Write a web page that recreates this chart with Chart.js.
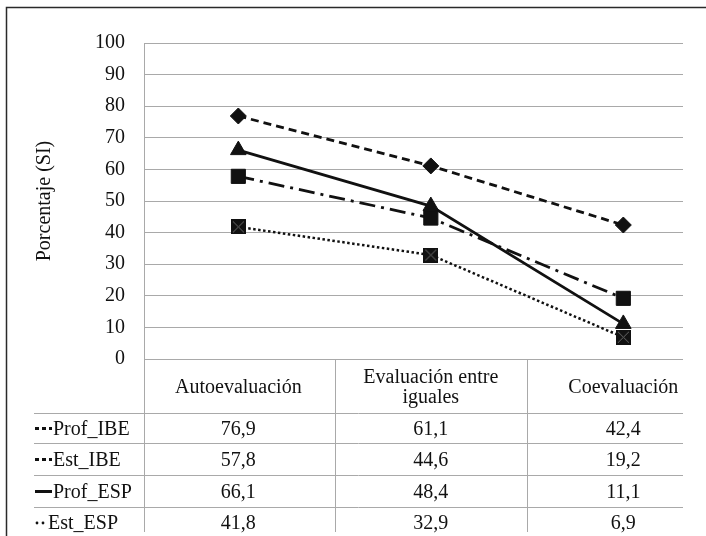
<!DOCTYPE html>
<html>
<head>
<meta charset="utf-8">
<script src="https://cdn.jsdelivr.net/npm/chart.js@4.4.1/dist/chart.umd.min.js"></script>
<style>
  html, body { margin: 0; padding: 0; background: #fff; }
  #wrap { position: relative; width: 706px; height: 536px; }
</style>
</head>
<body>
<div id="wrap"><canvas id="c" width="706" height="536"></canvas></div>
<script>
// Categories and series (percentage answering "SI")
const categories = ['Autoevaluación', 'Evaluación entre iguales', 'Coevaluación'];
const categoryLines = [['Autoevaluación'], ['Evaluación entre', 'iguales'], ['Coevaluación']];
const seriesNames = ['Prof_IBE', 'Est_IBE', 'Prof_ESP', 'Est_ESP'];
const profIBE = [76.9, 61.1, 42.4];
const estIBE = [57.8, 44.6, 19.2];
const profESP = [66.1, 48.4, 11.1];
const estESP = [41.8, 32.9, 6.9];
const yTicks = [0, 10, 20, 30, 40, 50, 60, 70, 80, 90, 100];

const FONT = 'Liberation Serif, Times New Roman, serif';
const FONT_SIZE = 20;
const INK = '#111';
const GRID = '#a9a9a9';

// square marker with a faint cross, used for Est_ESP
const crossSquare = (() => {
  const cv = document.createElement('canvas');
  cv.width = 15; cv.height = 15;
  const g = cv.getContext('2d');
  g.fillStyle = INK; g.fillRect(0, 0, 15, 15);
  g.strokeStyle = '#6a6a6a'; g.lineWidth = 1;
  g.beginPath(); g.moveTo(2, 2); g.lineTo(13, 13); g.moveTo(13, 2); g.lineTo(2, 13); g.stroke();
  return cv;
})();

const toPoints = arr => arr.map((v, i) => ({ x: i, y: v }));

const styles = [
  { dash: [8, 5], pointStyle: 'rectRot', radius: 8 },
  { dash: [16, 6, 3, 6], pointStyle: 'rect', radius: 10 },
  { dash: [], pointStyle: 'triangle', radius: 9 },
  { dash: [2.5, 2.5], pointStyle: crossSquare, radius: 8 }
];
const seriesValues = [profIBE, estIBE, profESP, estESP];

// Data table drawn under the plot: category header, legend keys and values
const tablePlugin = {
  id: 'dataTable',
  afterDraw(chart) {
    const { ctx, chartArea: a, scales: { x } } = chart;
    const rowLines = [413.5, 443.5, 475.5, 507.5];
    const tableBottom = 532;
    ctx.save();
    ctx.strokeStyle = GRID;
    ctx.lineWidth = 1;
    ctx.setLineDash([]);
    // left axis line continued through the table
    ctx.beginPath();
    ctx.moveTo(a.left + 0.5, a.top); ctx.lineTo(a.left + 0.5, tableBottom);
    // column separators halfway between categories
    [0.5, 1.5].forEach(v => {
      const px = Math.round(x.getPixelForValue(v)) + 0.5;
      ctx.moveTo(px, a.bottom); ctx.lineTo(px, tableBottom);
    });
    rowLines.forEach(y => { ctx.moveTo(34, y); ctx.lineTo(a.right, y); });
    ctx.stroke();

    ctx.fillStyle = INK;
    ctx.font = FONT_SIZE + 'px ' + FONT;
    ctx.textAlign = 'center';
    ctx.textBaseline = 'middle';
    // header
    categoryLines.forEach((lines, i) => {
      const cx = x.getPixelForValue(i);
      const mid = (a.bottom + rowLines[0]) / 2 + 1;
      const lh = 20;
      lines.forEach((t, j) => {
        ctx.fillText(t, cx, mid + (j - (lines.length - 1) / 2) * lh);
      });
    });
    // rows
    const rowTops = rowLines.concat([538.5]);
    seriesNames.forEach((name, r) => {
      const cy = (rowTops[r] + rowTops[r + 1]) / 2 + 1;
      seriesValues[r].forEach((v, i) => {
        ctx.textAlign = 'center';
        ctx.fillText(v.toFixed(1).replace('.', ','), x.getPixelForValue(i), cy);
      });
      // legend key
      ctx.save();
      ctx.strokeStyle = INK;
      ctx.fillStyle = INK;
      ctx.lineWidth = 3;
      const ky = cy - 1;
      if (r === 3) {
        [37, 43].forEach(px => { ctx.beginPath(); ctx.arc(px, ky, 1.4, 0, Math.PI * 2); ctx.fill(); });
      } else {
        ctx.setLineDash(r === 2 ? [] : [4, 3]);
        ctx.beginPath(); ctx.moveTo(35, ky); ctx.lineTo(52, ky); ctx.stroke();
      }
      ctx.restore();
      ctx.textAlign = 'left';
      ctx.fillText(name, r === 3 ? 48 : 53, cy);
    });

    // outer frame
    ctx.strokeStyle = '#2a2a2a';
    ctx.lineWidth = 1.5;
    ctx.setLineDash([]);
    ctx.strokeRect(6.5, 7.5, 760, 600);
    ctx.restore();
  }
};

new Chart(document.getElementById('c'), {
  type: 'line',
  data: {
    datasets: seriesNames.map((name, k) => ({
      label: name,
      data: toPoints(seriesValues[k]),
      borderColor: INK,
      backgroundColor: INK,
      borderWidth: k === 3 ? 2.5 : 2.8,
      borderDash: styles[k].dash,
      pointStyle: styles[k].pointStyle,
      pointRadius: styles[k].radius,
      pointBorderWidth: 1,
      pointBackgroundColor: INK,
      pointBorderColor: INK,
      tension: 0,
      fill: false
    }))
  },
  options: {
    responsive: false,
    animation: false,
    events: [],
    layout: { padding: { top: 43, right: 23, bottom: 177, left: 0 } },
    plugins: { legend: { display: false }, tooltip: { enabled: false }, title: { display: false } },
    scales: {
      x: {
        type: 'linear',
        min: -0.49,
        max: 2.31,
        display: false
      },
      y: {
        min: 0,
        max: 100,
        afterFit(scale) { scale.width = 144; },
        afterBuildTicks(scale) { scale.ticks = yTicks.map(v => ({ value: v })); },
        grid: { color: GRID, lineWidth: 1, drawTicks: false },
        border: { color: GRID, width: 1 },
        ticks: {
          padding: 19,
          color: INK,
          font: { family: FONT, size: FONT_SIZE }
        },
        title: {
          display: true,
          text: 'Porcentaje (SI)',
          color: INK,
          font: { family: FONT, size: FONT_SIZE },
          padding: { top: 33, bottom: 0 }
        }
      }
    }
  },
  plugins: [tablePlugin]
});
</script>
</body>
</html>
